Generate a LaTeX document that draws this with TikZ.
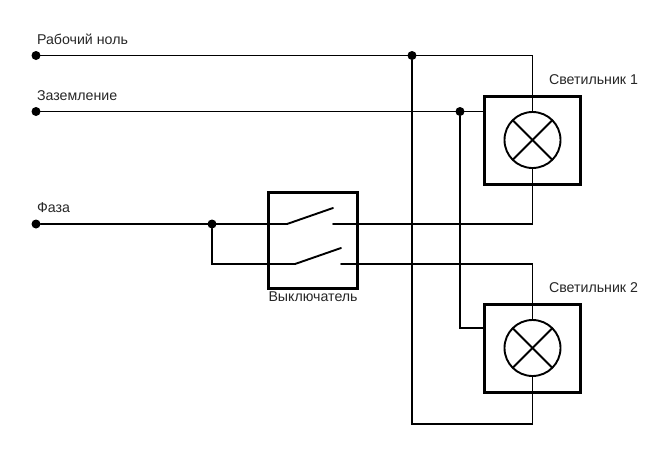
\documentclass[tikz,border=0pt]{standalone}
\usepackage{fontspec}
\setmainfont{Liberation Sans}
\tikzset{
  wire/.style={line width=1.9pt,black,line cap=round,line join=miter},
  frame/.style={draw=black,line width=3pt,fill=none,inner sep=0pt,outer sep=0pt},
  lampc/.style={circle,draw=black,line width=1.9pt,fill=white,minimum size=56pt,inner sep=0pt,outer sep=0pt},
  junction/.style={circle,fill=black,minimum size=9pt,inner sep=0pt,outer sep=0pt},
  lbl/.style={inner sep=0pt,outer sep=0pt,anchor=base west,text=black!85,font=\fontsize{14.2}{16}\selectfont}
}
\begin{document}
\begin{tikzpicture}[x=1pt,y=-1pt]
\useasboundingbox (0,0) rectangle (670,456);
% terminals and junctions
\node[junction] (n0) at (36,55.5) {};
\node[junction] (g0) at (36,111.5) {};
\node[junction] (f0) at (36,224) {};
\node[junction] (nj) at (412,55.5) {};
\node[junction] (gj) at (460,111.5) {};
\node[junction] (fj) at (212,224) {};
% lamps and boxes
\node[lampc] (lamp1) at (532.5,140) {};
\node[lampc] (lamp2) at (532.5,348) {};
\node[frame,minimum width=96pt,minimum height=88pt] (box1) at (532,140) {};
\node[frame,minimum width=96pt,minimum height=88pt] (box2) at (532,348) {};
\node[frame,minimum width=89pt,minimum height=96pt] (sw) at (312.5,240) {};
% corners and contacts
\coordinate (nc1) at (lamp1.north |- n0);
\coordinate (nc2) at (lamp2.south |- 0,424);
\coordinate (nc3) at (nj |- nc2);
\coordinate (gc) at (gj |- 0,328);
\coordinate (gb) at (box2.west |- gc);
\coordinate (ga) at (box1.west |- gj);
\coordinate (fa) at (287,224);
\coordinate (fb) at (333,208);
\coordinate (fc) at (333,224);
\coordinate (fd) at (lamp1.south |- fc);
\coordinate (ha) at (fj |- 0,264);
\coordinate (hb) at (295,264);
\coordinate (hc) at (341,248);
\coordinate (hd) at (341,264);
\coordinate (he) at (lamp2.north |- hd);
% wires
\begin{scope}[wire]
\draw (n0) -- (nc1) -- (lamp1.north);
\draw (nj) -- (nc3) -- (nc2) -- (lamp2.south);
\draw (g0) -- (ga);
\draw (gj) -- (gc) -- (gb);
\draw (f0) -- (fa) -- (fb);
\draw (fc) -- (fd) -- (lamp1.south);
\draw (fj) -- (ha) -- (hb) -- (hc);
\draw (hd) -- (he) -- (lamp2.north);
\draw (lamp1.45) -- (lamp1.225);
\draw (lamp1.135) -- (lamp1.315);
\draw (lamp2.45) -- (lamp2.225);
\draw (lamp2.135) -- (lamp2.315);
\end{scope}
% labels
\node[lbl] (t1) at (37,44) {Рабочий ноль};
\node[lbl] (t2) at (37,100) {Заземление};
\node[lbl] (t3) at (37,212) {Фаза};
\node[lbl] (t4) at (268.5,301.5) {Выключатель};
\node[lbl] (t5) at (549,84.5) {Светильник 1};
\node[lbl] (t6) at (549,292.5) {Светильник 2};
\end{tikzpicture}
\end{document}
